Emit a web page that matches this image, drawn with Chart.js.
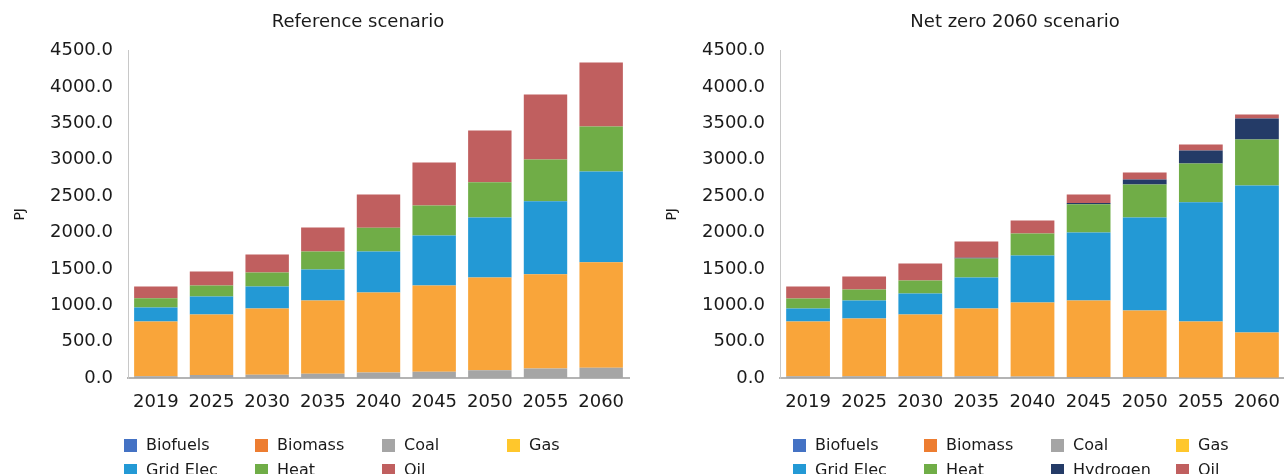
<!DOCTYPE html>
<html>
<head>
<meta charset="utf-8">
<script src="https://cdn.jsdelivr.net/npm/chart.js@4/dist/chart.umd.min.js"></script>
<style>
  html, body { margin: 0; padding: 0; background: #fff; overflow: hidden; width: 1284px; height: 474px; }
  .box { position: absolute; top: 0; }
  .legend { position: absolute; top: 437px; font-family: 'DejaVu Sans'; font-size: 16px; color: #1a1a1a; }
  .item { position: absolute; white-space: nowrap; line-height: 16px; }
  .sw { position: absolute; left: 0; top: 2px; width: 13px; height: 13px; }
  .lbl { position: absolute; left: 22px; top: 0; }
</style>
</head>
<body>
<div class="box" style="left:0"><canvas id="refChart" width="723" height="474"></canvas></div>
<div class="box" style="left:652px"><canvas id="nzChart" width="723" height="474"></canvas></div>
<div class="legend" id="refLegend" style="left:124px"></div>
<div class="legend" id="nzLegend" style="left:793px"></div>

<script>
// categories
const years = ['2019', '2025', '2030', '2035', '2040', '2045', '2050', '2055', '2060'];

// Reference scenario (PJ)
const refBiofuels = [0, 0, 0, 0, 0, 0, 0, 0, 0];
const refBiomass  = [0, 0, 0, 0, 0, 0, 0, 0, 0];
const refCoal     = [25, 40, 45, 60, 75, 85, 105, 130, 140];
const refGas      = [750, 832, 910, 1005, 1100, 1186, 1276, 1296, 1451];
const refGrid     = [193, 248, 302, 426, 563, 687, 824, 1003, 1246];
const refHeat     = [127, 151, 193, 247, 326, 412, 485, 573, 619];
const refOil      = [161, 192, 247, 330, 457, 591, 711, 893, 879];

// Net zero 2060 scenario (PJ)
const nzBiofuels = [0, 0, 0, 0, 0, 0, 0, 0, 0];
const nzBiomass  = [0, 0, 0, 0, 0, 0, 0, 0, 0];
const nzCoal     = [25, 25, 25, 25, 20, 15, 10, 5, 5];
const nzGas      = [750, 793, 847, 930, 1017, 1050, 917, 771, 620];
const nzGrid     = [180, 247, 289, 426, 646, 934, 1278, 1640, 2020];
const nzHeat     = [137, 151, 179, 261, 302, 389, 454, 531, 632];
const nzHydrogen = [0, 0, 0, 10, 0, 19, 68, 179, 289];
const nzOil      = [165, 179, 233, 224, 179, 114, 97, 82, 54];

// y axis ticks
const yMax = 4500;
const yStep = 500;

const barColors = {
  'Biofuels': '#4472C4', 'Biomass': '#ED7D31', 'Coal': '#A5A5A5', 'Gas': '#F9A53A',
  'Grid Elec': '#2399D5', 'Heat': '#70AD47', 'Hydrogen': '#243B67', 'Oil': '#C05F5F'
};
const legendColors = {
  'Biofuels': '#4472C4', 'Biomass': '#ED7D31', 'Coal': '#A5A5A5', 'Gas': '#FFC72C',
  'Grid Elec': '#2399D5', 'Heat': '#70AD47', 'Hydrogen': '#243B67', 'Oil': '#C05F5F'
};

Chart.defaults.font.family = "'DejaVu Sans'";
Chart.defaults.color = '#1a1a1a';

// plotRight: right edge of plot in canvas px, titleRight: right edge of the title box
function makeChart(id, title, series, plotRight, titleRight) {
  return new Chart(document.getElementById(id), {
    type: 'bar',
    data: {
      labels: years,
      datasets: series.map(([name, data]) => ({
        label: name,
        data: data,
        backgroundColor: barColors[name],
        borderWidth: 0,
        barPercentage: 0.78,
        categoryPercentage: 1.0
      }))
    },
    options: {
      responsive: false,
      animation: false,
      layout: { padding: { left: 4, right: 723 - titleRight, top: 0, bottom: 54 } },
      plugins: {
        legend: { display: false },
        tooltip: { enabled: false },
        title: {
          display: true,
          text: title,
          font: { size: 18, weight: 'normal' },
          color: '#1a1a1a',
          padding: { top: 12, bottom: 17 }
        }
      },
      scales: {
        x: {
          stacked: true,
          grid: { display: false, drawTicks: false },
          border: { color: '#b4b4b4', width: 2 },
          ticks: { font: { size: 18 }, color: '#1a1a1a', padding: 14, maxRotation: 0, autoSkip: false },
          afterFit: s => { s.height = 42; }
        },
        y: {
          stacked: true,
          min: 0,
          max: yMax,
          grid: { display: false, drawTicks: false },
          border: { color: '#c8c8c8', width: 1 },
          ticks: { stepSize: yStep, font: { size: 18 }, color: '#1a1a1a', padding: 15,
                   callback: v => v.toFixed(1) },
          title: { display: true, text: 'PJ', font: { size: 14 }, color: '#1a1a1a',
                   padding: { top: 8, bottom: 0 } },
          afterFit: s => { s.width = 124; }
        },
        pad: {
          position: 'right',
          display: true,
          grid: { display: false, drawTicks: false },
          border: { display: false },
          ticks: { display: false },
          afterFit: s => { s.width = titleRight - plotRight; }
        }
      }
    }
  });
}

function makeLegend(id, names) {
  const cols = [0, 131, 258, 383];
  const el = document.getElementById(id);
  names.forEach((name, i) => {
    const item = document.createElement('div');
    item.className = 'item';
    item.style.left = cols[i % 4] + 'px';
    item.style.top = (Math.floor(i / 4) * 25.3) + 'px';
    item.innerHTML = '<span class="sw" style="background:' + legendColors[name] + '"></span>' +
                     '<span class="lbl">' + name + '</span>';
    el.appendChild(item);
  });
}

const refSeries = [
  ['Biofuels', refBiofuels], ['Biomass', refBiomass], ['Coal', refCoal], ['Gas', refGas],
  ['Grid Elec', refGrid], ['Heat', refHeat], ['Oil', refOil]
];
const nzSeries = [
  ['Biofuels', nzBiofuels], ['Biomass', nzBiomass], ['Coal', nzCoal], ['Gas', nzGas],
  ['Grid Elec', nzGrid], ['Heat', nzHeat], ['Hydrogen', nzHydrogen], ['Oil', nzOil]
];

makeChart('refChart', 'Reference scenario', refSeries, 629, 712);
makeChart('nzChart', 'Net zero 2060 scenario', nzSeries, 633, 722);
makeLegend('refLegend', refSeries.map(s => s[0]));
makeLegend('nzLegend', nzSeries.map(s => s[0]));
</script>
</body>
</html>
